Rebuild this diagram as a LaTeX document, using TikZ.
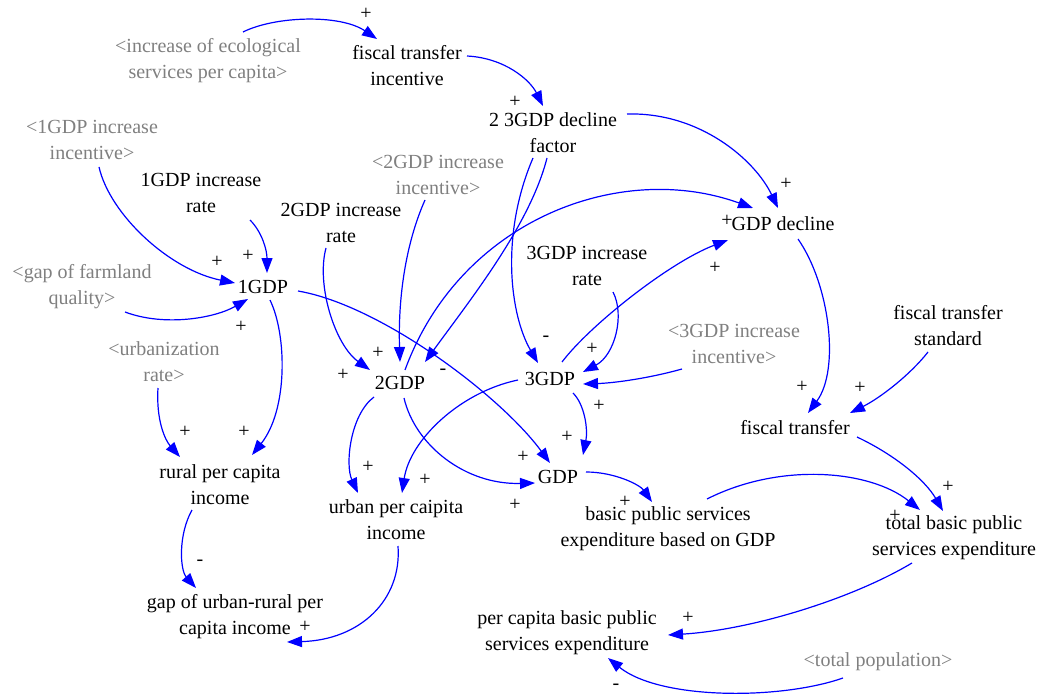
\documentclass[tikz,border=0pt]{standalone}
\usepackage{fontspec}
\setmainfont{Liberation Serif}
\usetikzlibrary{arrows.meta}
\definecolor{shadowgray}{RGB}{128,128,128}
\definecolor{linkblue}{RGB}{0,0,255}
\tikzset{
  var/.style={align=center, inner sep=0pt, font=\fontsize{20}{26}\selectfont},
  shadow/.style={var, text=shadowgray},
  pol/.style={inner sep=0pt, font=\fontsize{20}{24}\selectfont},
  lk/.style={draw=linkblue, line width=1.2pt, -{Triangle[length=15pt,width=11pt]}},
}
\begin{document}
\begin{tikzpicture}[x=1pt,y=-1pt]
\useasboundingbox[fill=white] (0,0) rectangle (1045,698);

% variables
\node[shadow] (eco)  at (208,61)  {<increase of ecological\\services per capita>};
\node[var]    (fti)  at (407,66)  {fiscal transfer\\incentive};
\node[var]    (fac)  at (553,133) {2 3GDP decline\\factor};
\node[shadow] (i1)   at (92,140)  {<1GDP increase\\incentive>};
\node[var]    (r1)   at (201,193) {1GDP increase\\rate};
\node[shadow] (i2)   at (438,175) {<2GDP increase\\incentive>};
\node[var]    (r2)   at (341,223) {2GDP increase\\rate};
\node[var]    (gd)   at (783,224) {GDP decline};
\node[var]    (r3)   at (587,266) {3GDP increase\\rate};
\node[shadow] (farm) at (82,287)  {<gap of farmland\\quality>};
\node[var]    (g1)   at (263,287) {1GDP};
\node[shadow] (urb)  at (164,362) {<urbanization\\rate>};
\node[shadow] (i3)   at (734,344) {<3GDP increase\\incentive>};
\node[var]    (fts)  at (948,326) {fiscal transfer\\standard};
\node[var]    (g2)   at (400,383) {2GDP};
\node[var]    (g3)   at (550,379) {3GDP};
\node[var]    (ft)   at (795,428) {fiscal transfer};
\node[var]    (rur)  at (220,485) {rural per capita\\income};
\node[var]    (urbi) at (396,520) {urban per caipita\\income};
\node[var]    (gdp)  at (558,477) {GDP};
\node[var]    (bps)  at (668,529) {basic public services\\expenditure based on GDP};
\node[var]    (tot)  at (954,538) {total basic public\\services expenditure};
\node[var]    (gap)  at (235,617) {gap of urban-rural per\\capita income};
\node[var]    (pc)   at (567,633) {per capita basic public\\services expenditure};
\node[shadow] (pop)  at (878,662) {<total population>};

% causal links
\draw[lk] ([shift={(35,-29)}]eco.center) .. controls (275,16) and (340,14) .. ([shift={(-30,-27)}]fti.center);
\draw[lk] ([shift={(60,-10)}]fti.center) .. controls (505,58) and (530,80) .. ([shift={(-10,-27)}]fac.center);
\draw[lk] ([shift={(74,-19)}]fac.center) .. controls (700,112) and (755,160) .. ([shift={(-5,-16)}]gd.center);
\draw[lk] ([shift={(7,27)}]i1.center) .. controls (110,215) and (170,270) .. ([shift={(-28,-4)}]g1.center);
\draw[lk] ([shift={(49,27)}]r1.center) .. controls (262,232) and (267,250) .. ([shift={(4,-14)}]g1.center);
\draw[lk] ([shift={(43,25)}]farm.center) .. controls (165,327) and (215,318) .. ([shift={(-15,12)}]g1.center);
\draw[lk] ([shift={(7,13)}]g1.center) .. controls (287,335) and (288,410) .. ([shift={(32,-30)}]rur.center);
\draw[lk] ([shift={(-6,26)}]urb.center) .. controls (156,420) and (165,440) .. ([shift={(-40,-28)}]rur.center);
\draw[lk] ([shift={(35,4)}]g1.center) .. controls (380,305) and (500,395) .. ([shift={(-8,-14)}]gdp.center);
\draw[lk] ([shift={(-15,25)}]r2.center) .. controls (316,285) and (335,345) .. ([shift={(-30,-13)}]g2.center);
\draw[lk] ([shift={(-13,25)}]i2.center) .. controls (405,245) and (398,300) .. ([shift={(0,-21)}]g2.center);
\draw[lk] ([shift={(-6,25)}]fac.center) .. controls (530,225) and (470,300) .. ([shift={(25,-21)}]g2.center);
\draw[lk] ([shift={(-20,25)}]fac.center) .. controls (500,235) and (510,315) .. ([shift={(-12,-16)}]g3.center);
\draw[lk] ([shift={(5,-13)}]g2.center) .. controls (460,220) and (620,160) .. ([shift={(-30,-16)}]gd.center);
\draw[lk] ([shift={(12,-17)}]g3.center) .. controls (590,325) and (670,262) .. ([shift={(-55,16)}]gd.center);
\draw[lk] ([shift={(26,26)}]r3.center) .. controls (625,315) and (615,355) .. ([shift={(33,-7)}]g3.center);
\draw[lk] ([shift={(-52,25)}]i3.center) .. controls (650,378) and (615,383) .. ([shift={(33,5)}]g3.center);
\draw[lk] ([shift={(-32,1)}]g3.center) .. controls (460,392) and (410,440) .. ([shift={(6,-27)}]urbi.center);
\draw[lk] ([shift={(23,14)}]g3.center) .. controls (585,405) and (588,430) .. ([shift={(25,-22)}]gdp.center);
\draw[lk] ([shift={(-26,14)}]g2.center) .. controls (350,415) and (345,465) .. ([shift={(-38,-27)}]urbi.center);
\draw[lk] ([shift={(4,15)}]g2.center) .. controls (415,445) and (465,485) .. ([shift={(-23,6)}]gdp.center);
\draw[lk] ([shift={(28,-5)}]gdp.center) .. controls (615,472) and (640,485) .. ([shift={(-16,-27)}]bps.center);
\draw[lk] ([shift={(39,-30)}]bps.center) .. controls (780,462) and (870,470) .. ([shift={(-34,-28)}]tot.center);
\draw[lk] ([shift={(62,9)}]ft.center) .. controls (895,455) and (925,480) .. ([shift={(-11,-27)}]tot.center);
\draw[lk] ([shift={(15,15)}]gd.center) .. controls (830,285) and (840,370) .. ([shift={(13,-15)}]ft.center);
\draw[lk] ([shift={(-20,26)}]fts.center) .. controls (910,375) and (880,398) .. ([shift={(55,-15)}]ft.center);
\draw[lk] ([shift={(-42,25)}]tot.center) .. controls (850,600) and (750,630) .. ([shift={(101,2)}]pc.center);
\draw[lk] ([shift={(-35,16)}]pop.center) .. controls (780,700) and (660,700) .. ([shift={(41,25)}]pc.center);
\draw[lk] ([shift={(-28,25)}]rur.center) .. controls (178,535) and (180,570) .. ([shift={(-39,-29)}]gap.center);
\draw[lk] ([shift={(2,26)}]urbi.center) .. controls (402,600) and (360,640) .. ([shift={(52,25)}]gap.center);

% link polarities
\node[pol] (p1)  at (366,14)  {+};
\node[pol] (p2)  at (515,102) {+};
\node[pol] (p3)  at (786,184) {+};
\node[pol] (p4)  at (217,262) {+};
\node[pol] (p5)  at (248,256) {+};
\node[pol] (p6)  at (241,327) {+};
\node[pol] (p7)  at (244,432) {+};
\node[pol] (p8)  at (185,432) {+};
\node[pol] (p9)  at (523,457) {+};
\node[pol] (p10) at (343,375) {+};
\node[pol] (p11) at (378,353) {+};
\node[pol] (p12) at (443,372) {-};
\node[pol] (p13) at (546,339) {-};
\node[pol] (p14) at (727,221) {+};
\node[pol] (p15) at (715,268) {+};
\node[pol] (p16) at (592,349) {+};
\node[pol] (p17) at (599,406) {+};
\node[pol] (p18) at (567,437) {+};
\node[pol] (p19) at (425,480) {+};
\node[pol] (p20) at (368,467) {+};
\node[pol] (p21) at (515,505) {+};
\node[pol] (p22) at (625,502) {+};
\node[pol] (p23) at (895,516) {+};
\node[pol] (p24) at (948,487) {+};
\node[pol] (p25) at (802,387) {+};
\node[pol] (p26) at (860,388) {+};
\node[pol] (p27) at (688,618) {+};
\node[pol] (p28) at (616,687) {-};
\node[pol] (p29) at (200,563) {-};
\node[pol] (p30) at (305,627) {+};
\end{tikzpicture}
\end{document}
